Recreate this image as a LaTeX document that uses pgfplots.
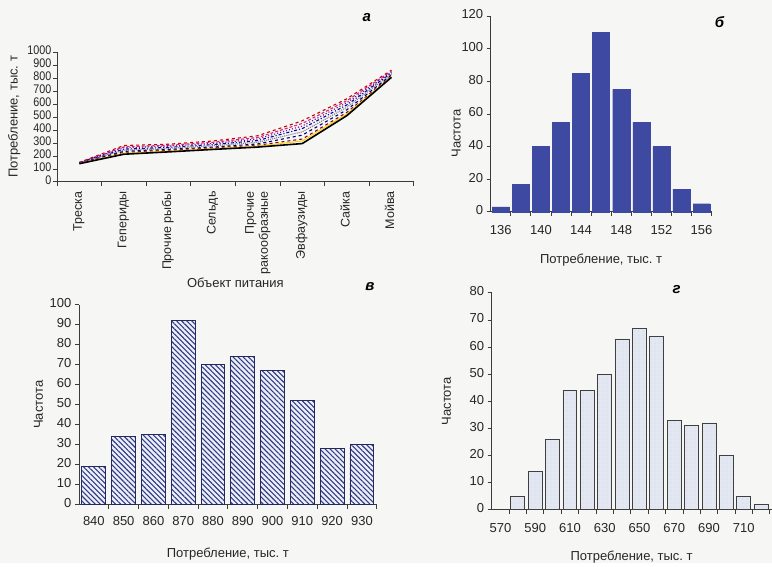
\documentclass[border=0pt]{standalone}
\usepackage{pgfplots}
\pgfplotsset{compat=1.18}
\usepackage{fontspec}
\setmainfont{Liberation Sans}
\newfontfamily\narrowfont[FakeStretch=0.86]{Liberation Sans}
\usetikzlibrary{patterns,patterns.meta}
\definecolor{bg}{RGB}{246,246,244}
\definecolor{bluebar}{RGB}{62,74,162}
\definecolor{navyedge}{RGB}{35,40,95}
\definecolor{hatchblue}{RGB}{50,60,130}
\definecolor{hatchfill}{RGB}{236,239,250}
\definecolor{gfill}{RGB}{226,231,242}
\definecolor{axisgray}{RGB}{60,60,60}
\frenchspacing
\begin{document}
\frenchspacing
\begin{tikzpicture}[x=1pt,y=1pt]
\fill[bg] (0,0) rectangle (772,563);
\pgfplotsset{
  hist/.style={scale only axis, axis lines*=left, tick align=outside,
    axis line style={line width=0.9pt, axisgray},
    tick style={line width=0.8pt, axisgray},
    major tick length=4pt, minor tick length=4pt,
    typeset ticklabels with strut,
    ticklabel style={font=\fontsize{13}{15}\selectfont, text=black!85},
    label style={font=\fontsize{13}{15}\selectfont, text=black!85},
    /pgf/number format/assume math mode=true,
    /pgf/number format/1000 sep={},
    clip=false}
}
% ---------------- panel a ----------------
\begin{axis}[hist, at={(57pt,381pt)}, anchor=south west,
  width=357pt, height=130pt,
  xmin=-0.5, xmax=7.5, ymin=0, ymax=1000,
  ytick={0,100,...,1000},
  y tick label style={font=\narrowfont\fontsize{12.5}{12.5}\selectfont, inner sep=1.5pt},
  xtick={0,...,7},
  xticklabels={Треска,Гепериды,Прочие рыбы,Сельдь,{Прочие\\ракообразные},Эвфаузиды,Сайка,Мойва},
  x tick label style={rotate=90, anchor=east, align=right, font=\fontsize{12.5}{13}\selectfont, xshift=-2pt},
  major x tick style={draw=none},
  minor xtick={-0.5,0.5,...,7.5},
  ylabel={Потребление, тыс. т},
  xlabel={Объект питания},
  ylabel style={yshift=2pt},
  xlabel style={yshift=3pt}]
\addplot[red!80!black, line width=1.1pt, dashed] coordinates {(0,150)(1,280)(2,290)(3,315)(4,355)(5,470)(6,640)(7,860)};
\addplot[magenta!80!black, line width=1.1pt, densely dashed] coordinates {(0,149)(1,270)(2,282)(3,305)(4,342)(5,450)(6,625)(7,852)};
\addplot[violet, line width=1.1pt, dotted] coordinates {(0,148)(1,262)(2,275)(3,296)(4,330)(5,430)(6,610)(7,845)};
\addplot[blue!70!black, line width=1.1pt, dashdotted] coordinates {(0,147)(1,252)(2,266)(3,287)(4,318)(5,410)(6,593)(7,838)};
\addplot[gray, line width=1.1pt, densely dotted] coordinates {(0,146)(1,244)(2,258)(3,278)(4,305)(5,385)(6,575)(7,830)};
\addplot[blue!50!black, line width=1.1pt, dashed] coordinates {(0,144)(1,235)(2,250)(3,268)(4,292)(5,360)(6,555)(7,822)};
\addplot[purple!70!black, line width=1.1pt, dashed] coordinates {(0,143)(1,226)(2,243)(3,262)(4,282)(5,330)(6,535)(7,815)};
\addplot[yellow!70!orange, line width=1.0pt] coordinates {(0,142)(1,220)(2,237)(3,256)(4,275)(5,315)(6,522)(7,810)};
\addplot[black, line width=1.6pt] coordinates {(0,140)(1,213)(2,231)(3,250)(4,268)(5,295)(6,510)(7,805)};
\end{axis}
\node[font=\bfseries\itshape\fontsize{15}{15}\selectfont] at (367,545) {а};
% ---------------- panel b ----------------
\begin{axis}[hist, at={(491pt,351pt)}, anchor=south west,
  width=221pt, height=196pt,
  xmin=135, xmax=157, ymin=0, ymax=120,
  ytick={0,20,...,120},
  xtick={136,140,...,156},
  minor xtick={137,139,...,157},
  major x tick style={draw=none},
  x tick label style={yshift=-5pt},
  ylabel={Частота}, ylabel style={at={(ticklabel cs:0.4)}}, ylabel shift=-6pt,
  xlabel={Потребление, тыс. т}, xlabel style={yshift=-8pt}]
\addplot[ybar, bar width=1.7, fill=bluebar, draw=bluebar] coordinates {(136,3)(138,17)(140,40)(142,55)(144,85)(146,110)(148,75)(150,55)(152,40)(154,14)(156,5)};
\end{axis}
\node[font=\bfseries\itshape\fontsize{15}{15}\selectfont] at (720,541) {б};
% ---------------- panel c ----------------
\begin{axis}[hist, at={(79pt,58pt)}, anchor=south west,
  width=298pt, height=200pt,
  xmin=835, xmax=935, ymin=0, ymax=100,
  ytick={0,10,...,100},
  xtick={840,850,...,930},
  minor xtick={845,855,...,935},
  major x tick style={draw=none},
  x tick label style={yshift=-3pt},
  ylabel={Частота},
  xlabel={Потребление, тыс. т}, xlabel style={yshift=-11pt}]
\addplot[ybar, bar width=8, draw=navyedge, line width=0.9pt, fill=hatchfill,
  postaction={pattern color=hatchblue, pattern={Lines[angle=-45,distance=3.6pt,line width=1.1pt]}}]
  coordinates {(840,19)(850,34)(860,35)(870,92)(880,70)(890,74)(900,67)(910,52)(920,28)(930,30)};
\end{axis}
\node[font=\bfseries\itshape\fontsize{15}{15}\selectfont] at (370,276) {в};
% ---------------- panel d ----------------
\begin{axis}[hist, at={(492pt,53pt)}, anchor=south west,
  width=280pt, height=217pt,
  xmin=565, xmax=726, ymin=0, ymax=80,
  ytick={0,10,...,80},
  xtick={570,590,...,710},
  minor xtick={575,585,...,725},
  major x tick style={draw=none},
  x tick label style={yshift=-5pt},
  ylabel={Частота}, ylabel shift=12pt,
  xlabel={Потребление, тыс. т}, xlabel style={yshift=-7pt}]
\addplot[ybar, bar width=8, draw=black!75, line width=0.8pt, fill=gfill,
  postaction={pattern color=gray!55, pattern={Dots[distance=4pt,radius=0.3pt]}}]
  coordinates {(580,5)(590,14)(600,26)(610,44)(620,44)(630,50)(640,63)(650,67)(660,64)(670,33)(680,31)(690,32)(700,20)(710,5)(720,2)};
\end{axis}
\node[font=\bfseries\itshape\fontsize{15}{15}\selectfont] at (677,273) {г};
\end{tikzpicture}
\end{document}
